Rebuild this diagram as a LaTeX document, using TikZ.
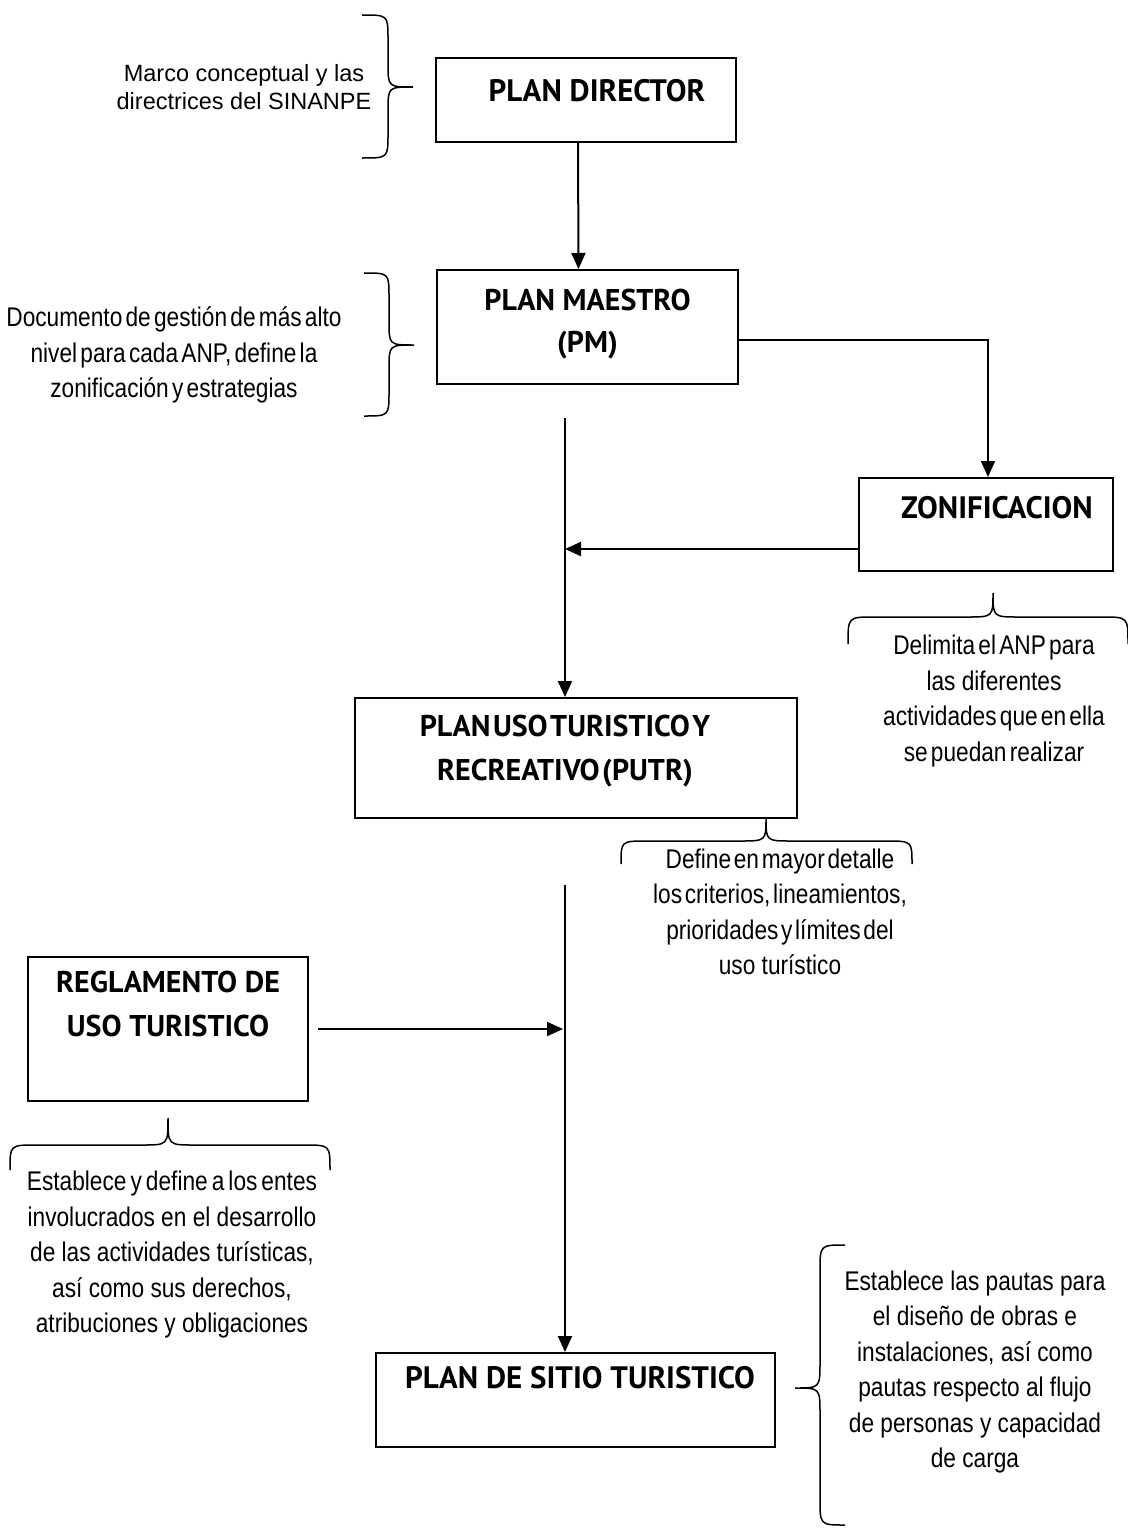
\documentclass[tikz,border=0pt]{standalone}
\usepackage{fontspec}
\setmainfont{Liberation Sans}
\newfontfamily\titlefont{PT Sans}
\newfontfamily\narrowfont[FakeStretch=0.84]{Liberation Sans}
\usetikzlibrary{arrows.meta}
\newcommand\bracev[7]{% xend, xcol, xtip, ytop, ytip, ybot, r
  \draw[brc] (#1,#4) .. controls (#2,#4) .. (#2,#4+#7) -- (#2,#5-#7) .. controls (#2,#5) .. (#3,#5)
    .. controls (#2,#5) .. (#2,#5+#7) -- (#2,#6-#7) .. controls (#2,#6) .. (#1,#6);}
\newcommand\braceh[7]{% yend, ycol, ytip, xleft, xtip, xright, r
  \draw[brc] (#4,#1) .. controls (#4,#2) .. (#4+#7,#2) -- (#5-#7,#2) .. controls (#5,#2) .. (#5,#3)
    .. controls (#5,#2) .. (#5+#7,#2) -- (#6-#7,#2) .. controls (#6,#2) .. (#6,#1);}
\begin{document}
\begin{tikzpicture}[x=1pt,y=-1pt,
  box/.style={draw, line width=2pt, inner sep=0pt, align=center,
    font=\titlefont\bfseries\fontsize{31}{43}\selectfont},
  arr/.style={line width=2pt, -{Triangle[length=16pt,width=14pt]}},
  brc/.style={line width=1.5pt},
  note/.style={align=center, inner sep=0pt, font=\fontsize{23.5}{28.5}\selectfont},
  nnote/.style={align=center, inner sep=0pt, font=\narrowfont\fontsize{27}{35.5}\selectfont}]
\useasboundingbox (0,0) rectangle (1127,1528);
% boxes
\node[box, minimum width=300pt, minimum height=83pt] (PD) at (586,100)
  {\hspace*{22pt}PLAN DIRECTOR\rule[-20pt]{0pt}{0pt}};
\node[box, minimum width=301pt, minimum height=114pt, font=\titlefont\bfseries\fontsize{30}{42}\selectfont] (PM) at (587.5,327)
  {PLAN MAESTRO\\(PM)\rule[-12pt]{0pt}{0pt}};
\node[box, minimum width=254pt, minimum height=93pt] (ZO) at (986,524.5)
  {\hspace*{22pt}ZONIFICACION\rule[-34pt]{0pt}{0pt}};
\node[box, minimum width=442pt, minimum height=120pt, font=\titlefont\bfseries\fontsize{30}{44}\selectfont] (PU) at (576,758)
  {\spaceskip=0.08em PLAN USO TURISTICO Y\hspace*{22pt}\\\spaceskip=0.08em RECREATIVO (PUTR)\hspace*{22pt}\rule[-20pt]{0pt}{0pt}};
\node[box, minimum width=280pt, minimum height=144pt, font=\titlefont\bfseries\fontsize{30}{44}\selectfont] (RE) at (168,1029)
  {REGLAMENTO DE\\USO TURISTICO\rule[-50pt]{0pt}{0pt}};
\node[box, minimum width=399pt, minimum height=94pt] (PS) at (575.5,1400)
  {\hspace*{9pt}PLAN DE SITIO TURISTICO\rule[-46pt]{0pt}{0pt}};
% free line ends
\coordinate (m1) at (565,418);
\coordinate (m2) at (565,885);
% connectors
\draw[arr] ([xshift=-8pt]PD.south) -- ([xshift=-9pt]PM.north);
\draw[arr] ([yshift=-13pt]PM.east) -| ([xshift=2pt]ZO.north);
\draw[arr] (m1) -- (m1 |- PU.north);
\draw[arr] ([yshift=-24.5pt]ZO.west) -- (m1 |- 0,549);
\draw[arr] (m2) -- (m2 |- PS.north);
\draw[arr] ([xshift=9pt]RE.east) -- ([xshift=-2pt]m2 |- RE.east);
% notes
\node[note] (nA) at (244,87) {Marco conceptual y las\\directrices del SINANPE};
\node[nnote] (nB) at (174,355) {\spaceskip=0.12em Documento de gestión de más alto\\\spaceskip=0.12em nivel para cada ANP, define la\\\spaceskip=0.12em zonificación y estrategias};
\node[nnote] (nC) at (994,701) {\spaceskip=0.12em Delimita el ANP para\\las diferentes\\\spaceskip=0.12em actividades que en ella\\\spaceskip=0.12em se puedan realizar};
\node[nnote] (nD) at (780,912) {\spaceskip=0.1em Define en mayor detalle\\\spaceskip=0.1em los criterios, lineamientos,\\\spaceskip=0.1em prioridades y límites del\\uso turístico};
\node[nnote] (nE) at (172,1255) {\spaceskip=0.15em Establece y define a los entes\\involucrados en el desarrollo\\de las actividades turísticas,\\así como sus derechos,\\atribuciones y obligaciones};
\node[nnote] (nF) at (975,1372) {Establece las pautas para\\el diseño de obras e\\instalaciones, así como\\pautas respecto al flujo\\de personas y capacidad\\de carga};
% braces
\bracev{362}{388}{413}{15}{87}{158}{24}
\bracev{364}{389}{414}{273}{345}{416}{24}
\braceh{644}{617}{593}{848}{993}{1128}{26}
\braceh{864}{841}{818}{621}{766}{912}{26}
\braceh{1170}{1145}{1118}{10}{168}{330}{26}
\bracev{845}{820}{795}{1245}{1388}{1525}{26}
\end{tikzpicture}
\end{document}
